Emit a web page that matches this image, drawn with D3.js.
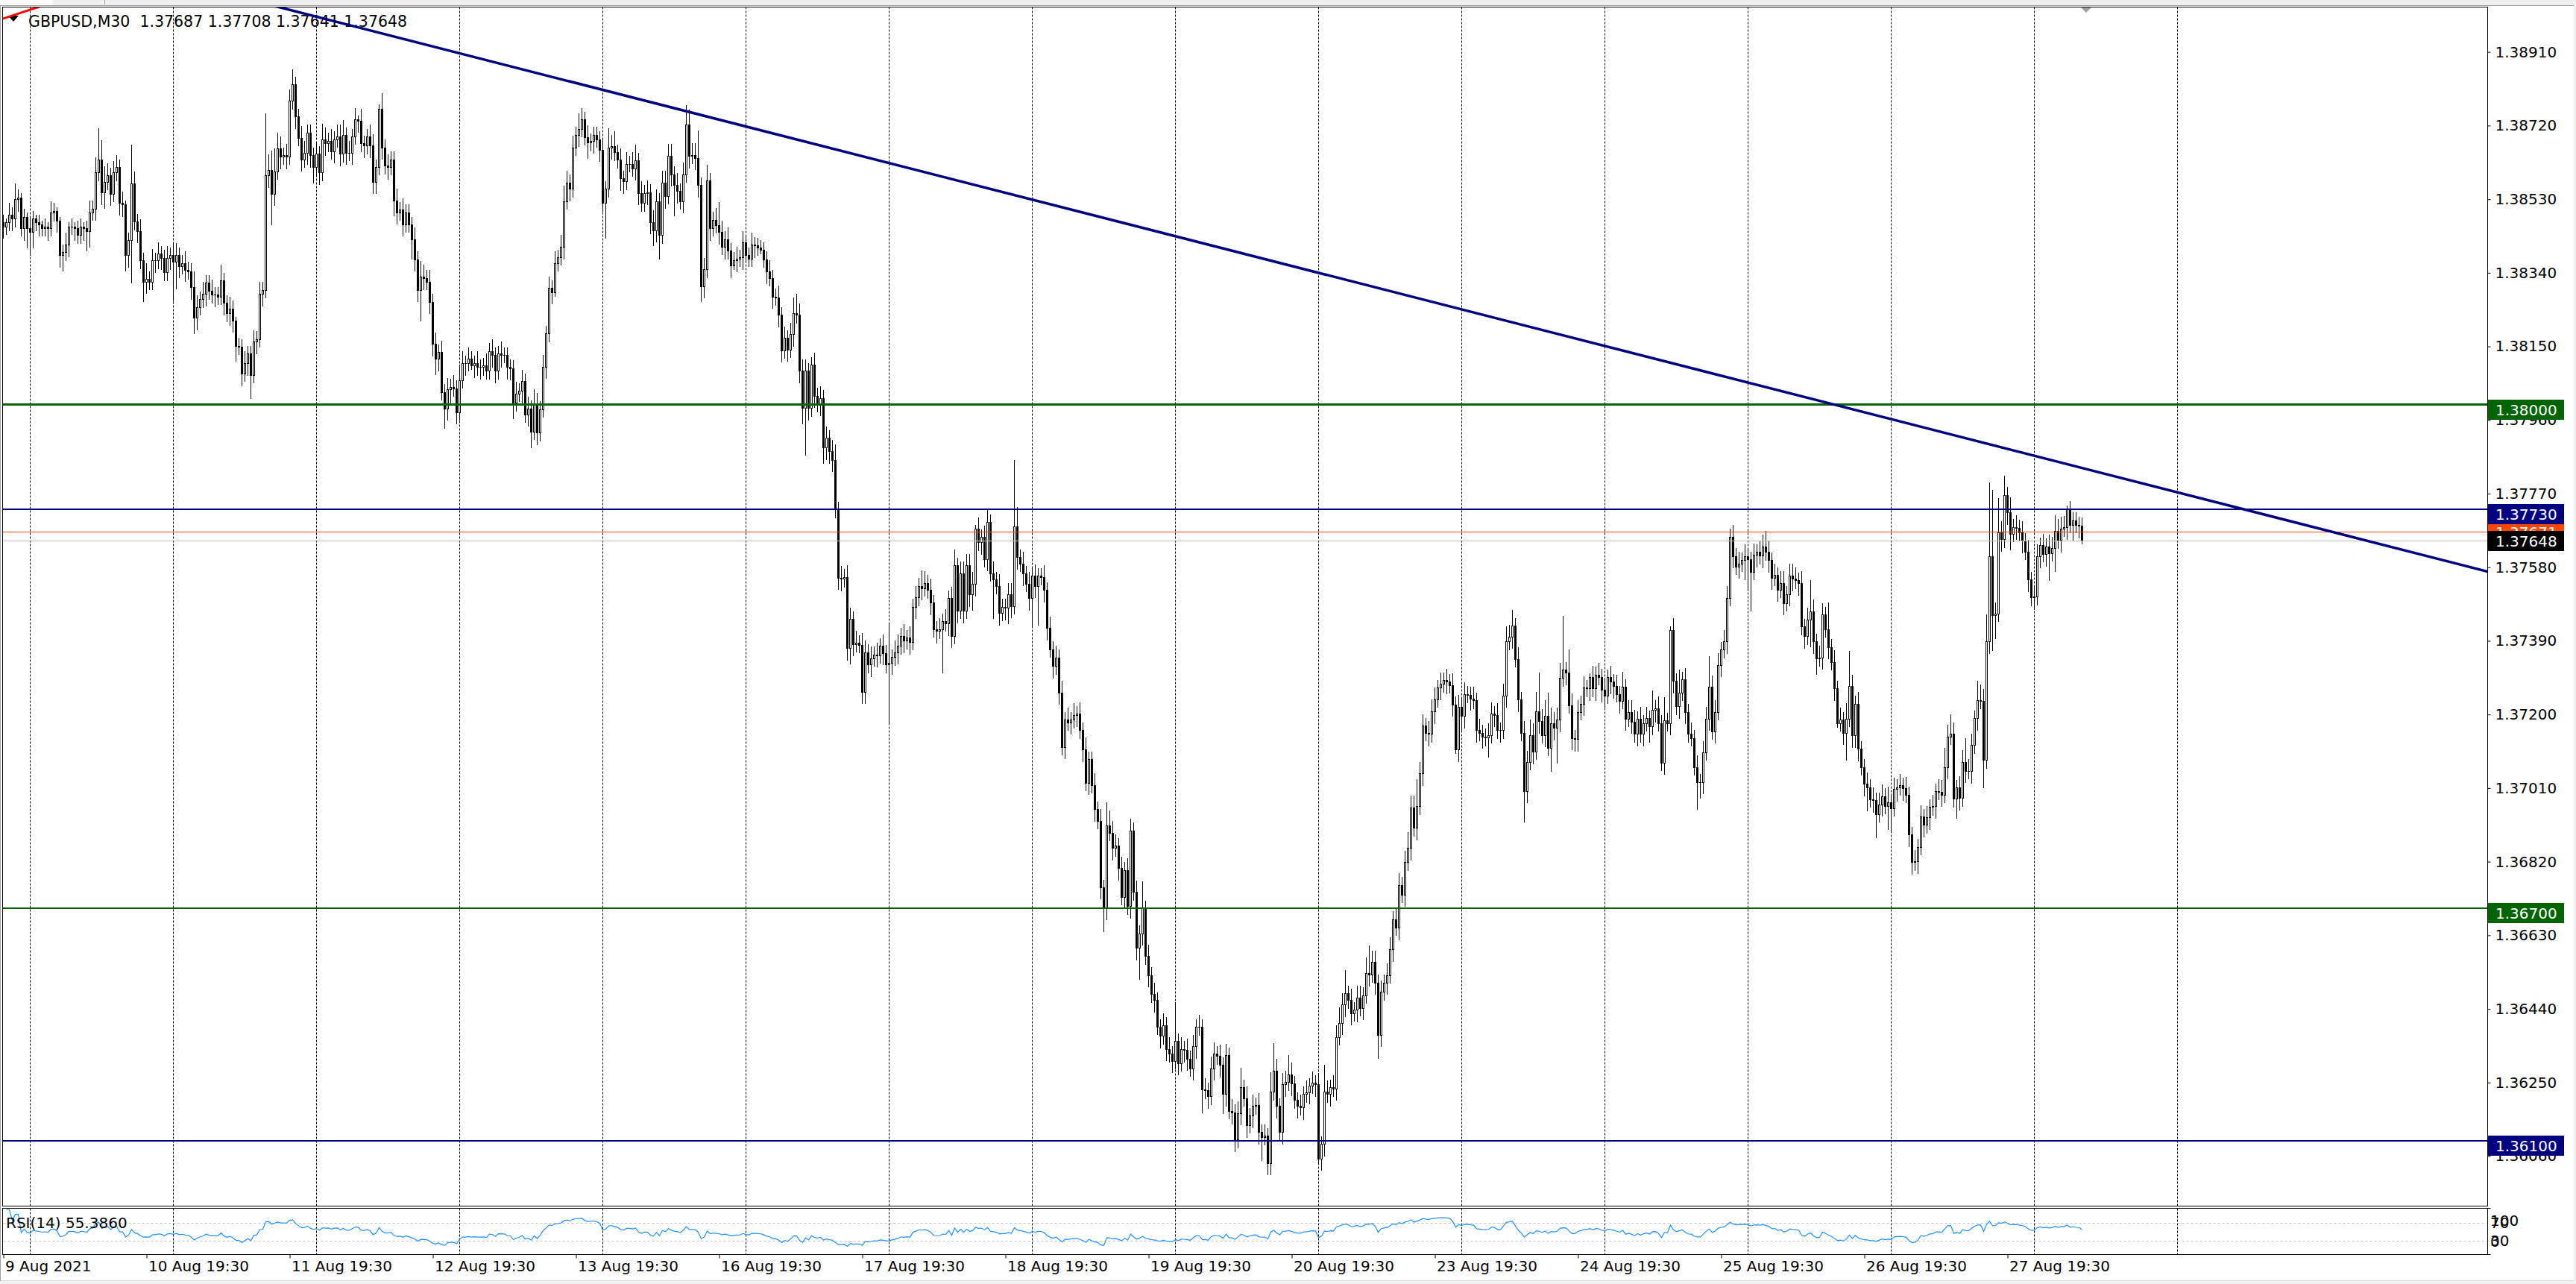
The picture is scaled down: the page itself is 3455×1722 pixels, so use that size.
<!DOCTYPE html>
<html><head><meta charset="utf-8">
<script src="https://cdnjs.cloudflare.com/ajax/libs/d3/7.8.5/d3.min.js"></script>
<style>
html,body{margin:0;padding:0;background:#fff;overflow:hidden;}
svg{display:block;}
text{font-family:"DejaVu Sans",Verdana,sans-serif;}
</style></head><body>
<svg id="chart" width="3455" height="1722"></svg>
<script>
// ---------------- DATA ----------------
const titleText = "GBPUSD,M30  1.37687 1.37708 1.37641 1.37648";
const rsiTitle = "RSI(14) 55.3860";
const basePrice = 1.36;          // prices below are pips above this
const firstOpen = 247;
const closes = [
246,247,249,248,253,253.5,245.5,248.5,245.5,244.5,
248,247,246.5,245.5,246,245.5,249.5,250,247.5,238.5,
239.3,241.3,246,246,245.5,243.7,246,245.5,244.8,249.6,
250.6,259.9,263.3,254.7,257.5,259.2,254.4,259.9,261.3,252,
251.6,238.6,242.4,257.1,247.2,244.8,237.2,231.7,232.4,231.7,
237.2,237.2,238.9,237.9,234.1,237.9,238.6,236.9,238.6,235.8,
236.5,234.8,234.4,230.3,222.4,225.2,227.2,228.6,231.4,229.3,
228.3,228.3,227.9,232,226.2,223.5,224.8,221.7,215.2,214.9,
208,210.7,213.2,207.6,216.2,216.9,228.6,229.6,259.2,260.6,
254.4,260.2,266.1,264,264.3,264,278.4,282.6,274.3,268.8,
263.3,265,270.2,264.3,261.3,264.7,259.9,268.5,267.4,268.1,
265.4,268.5,269.2,264.7,269.5,265,265,269.2,273.6,273.3,
267.4,266.8,269.2,266.8,257.5,261.3,276.4,266.4,261.6,261.3,
263.3,252.7,249.6,250.3,246.5,249.6,246.5,242.7,237.5,229.6,
233.1,232.7,231.7,226.5,215.6,211.8,213.5,203.2,199,203.9,
204.6,204.2,198,206.3,210.7,210.7,211.8,210.1,210.7,209.7,
209.7,210.1,208.7,213.8,212.8,208.7,213.2,212.8,212.8,209.7,
209.4,200.4,202.8,203.5,206,197.5,199,193,200,192.7,
198.8,209.8,218.3,230.1,229,236.5,238,240.7,252.5,257.3,
255.7,266.4,269.6,271.2,273.6,269,267.6,268,269.6,268.5,
265.8,252,255.7,266.4,266.6,265.1,263.2,258.4,257.6,262.1,
262.1,261,263,254.6,252,254.6,254.8,247.1,245,252.5,
243.7,257.3,253.8,264.2,259.4,256.7,255.1,252.5,259.4,272.2,
264.2,264.4,263.7,256.7,230.6,234.9,257.8,245.5,247.7,246.3,
244.5,240.7,242.7,239.7,235.9,237.3,237.7,238,241.8,238.6,
237.7,241.3,241,240.5,239.9,237.5,234.3,232.7,227.9,227.7,
223.1,214,217.2,214.2,218.1,223.6,223.1,208.7,199.1,208.7,
199.1,210.3,202.3,200.2,201.7,188.9,191.4,187.9,185.7,172.9,
155.3,155,155.5,137.1,144.6,138.2,138.5,138,125.9,136.1,
132.9,134.5,135.5,135.3,137.7,135.9,132.9,133.4,134.8,136.1,
137.7,140.3,139,139.8,138.7,147.8,150.2,153.2,152.6,154,
152.1,148.9,142,141.6,141.9,144.1,143.5,150,140.3,158.5,
146.8,156.4,146.8,158.5,151,153.7,167.9,164.4,165.8,160.1,
169.7,156.4,154.8,153.2,146.2,147.8,147.5,151,148,168.6,
160.6,159,156.4,153.7,150,155.8,153.2,155.8,155.5,152.1,
142.3,136.8,132.5,134.7,125.7,111.6,118.7,118,118.6,119.9,
120.2,115.9,111,102.4,108.5,101.8,95.6,92.6,75.4,70.1,
91.3,89.5,85.5,86.1,80.3,72.9,79.9,70.5,90.1,74.2,
59.7,63.5,69.9,57.6,52.7,47.8,46.3,39.4,37,39.8,
33.7,32.4,30.6,35.7,30,33.7,33.4,31.2,28.7,34.3,
39.4,39.3,23.2,23,21.4,28.7,32.4,31.8,29.5,22,
32,17.7,17.3,10.3,17.1,23.8,21,14,16.5,18.9,
19.2,12.2,11,11.2,4.2,22.6,28.1,18.9,12.2,24.5,
25.1,27.1,24.7,20.5,18.9,18.6,22,22.5,24.2,24.9,
24.5,5.4,9.1,22.6,22,23.8,23.5,36.7,40.4,45.1,
48,46.3,42.9,43.8,46.9,44.3,47.5,53.3,52.9,56.1,
50.8,37.3,48.4,50.8,52.7,59.4,67.2,65,76,73.5,
81.9,85.6,96,90.7,96.3,104.8,117.1,115.3,115,120.8,
123.9,126.9,127.9,128.8,128.5,127.6,122.6,111,122,119.6,
125.3,125.1,124.1,123.6,115.9,115.3,114.3,114,114.7,120.2,
119.9,115.9,115.9,124.9,138.8,140.1,142.9,134.3,123.9,115.3,
100.3,107.7,114.7,110.4,120.8,118.3,114.7,119.6,111.4,117.7,
116.5,118.7,129.4,131.5,130.8,122.4,113.9,113.7,120.7,122.8,
126.9,126.7,129.6,126.7,130.3,129.7,126.4,124.9,129.6,128.5,
127.3,125.3,123.5,127.1,118.9,120.7,118.2,115,118.9,115,
117.8,119,116.9,121.2,121.6,117.8,107.6,118.5,117.8,141.8,
128.7,122.1,125.6,129,120.7,115,113.9,106.4,102.5,102.6,
110.2,118.9,127.1,115.7,120.7,132.8,136.7,138.8,150.1,165.9,
160.9,158.2,158.9,159.8,160.9,160,156.8,161.2,161.9,161,
163.4,161.9,159.8,155.3,156,152.2,153.9,148.8,151.1,155.9,
155,154.6,153.9,142.7,140.2,144.5,146.6,138.9,134.5,134.7,
145.8,142,137.4,133.5,126.7,117.8,118.7,115.3,118.9,127.3,
114.6,122.8,111.1,106.4,102.1,101.2,98.1,97.9,94.3,96.8,
98.9,96.4,97.4,95.8,100.7,101.2,101.7,100.9,99.3,89,
81.9,82.1,85.8,93.6,91.5,93.4,96.1,96.3,100.2,100.1,
99.3,106.4,114.3,115,98.2,101.1,98.4,107.8,105.5,105.4,
112.1,119,123.7,123.5,108.2,138.8,160.9,145.6,146,166.9,
165.2,176.7,172.1,166.6,168.4,168.2,166.9,164.8,162,154.8,
150.2,150.4,160.9,163.7,161.4,163.4,161.6,162.9,167.4,165,
168,168.3,173,168.9,170.1,169,168.7,164.8
];
const upWicks = [
2,1,3,2,4,2,1,2,1,3,
2,1,2,1,2,1,3,2,1,1,
2,3,1,2,1,2,2,1,2,3,
2,4,8,5,4,3,2,3,3,2,
3,1,2,10,3,2,3,2,4,2,
3,2,3,2,2,3,2,3,3,2,
2,3,2,2,4,3,2,3,2,2,
3,2,2,4,2,2,3,2,1,2,
2,3,2,2,3,2,3,2,16,4,
5,6,4,3,2,3,3,4,2,2,
3,3,2,2,2,3,2,4,3,2,
3,2,3,3,4,2,3,2,3,1,
3,2,2,3,3,2,1,4,2,3,
2,2,3,2,3,2,2,2,3,2,
4,3,2,3,2,3,2,3,2,3,
2,3,2,4,3,2,3,2,2,3,
2,2,3,2,3,2,2,3,2,2,
2,2,3,2,3,2,3,2,4,3,
2,3,2,3,2,3,2,3,4,3,
2,3,2,4,3,2,3,2,2,2,
2,3,2,5,3,4,2,3,2,3,
2,3,4,2,3,2,3,2,3,3,
2,3,3,3,3,2,3,2,3,5,
4,3,3,7,2,3,4,2,2,3,
6,3,2,3,2,2,3,2,3,2,
2,3,2,2,2,2,2,3,2,2,
3,2,3,2,3,4,5,3,3,3,
2,2,3,2,3,2,3,2,3,4,
2,3,2,3,3,2,3,2,3,3,
2,3,2,3,2,3,2,10,2,3,
3,2,3,2,3,2,3,2,4,3,
2,3,2,2,3,2,3,2,3,4,
2,3,3,3,3,3,1,3,2,3,
3,2,3,2,3,2,2,3,3,17,
5,2,3,2,3,2,3,2,2,3,
2,3,2,3,2,3,2,3,2,3,
2,3,2,3,2,2,3,2,3,2,
6,4,3,3,2,3,2,3,3,2,
3,2,7,2,3,2,3,2,2,3,
2,3,2,10,2,3,2,3,2,3,
2,3,2,3,2,3,3,2,3,2,
3,2,3,2,3,5,2,3,2,3,
2,3,2,3,2,5,7,3,2,3,
3,5,3,2,2,3,2,3,2,3,
2,3,2,7,3,2,3,3,4,3,
6,2,3,2,3,3,2,4,7,3,
3,2,3,2,3,3,2,3,3,2,
3,4,3,3,7,3,3,2,3,3,
3,2,3,2,3,2,3,2,3,2,
3,2,2,3,2,3,2,2,3,3,
2,3,2,3,4,3,4,2,3,2,
3,3,4,3,5,10,3,4,6,4,
3,3,4,14,2,6,3,2,3,2,
3,2,1,3,2,3,2,3,2,3,
2,3,2,4,2,3,3,3,2,3,
2,3,2,5,2,3,2,6,2,1,
3,2,6,2,3,2,3,2,3,2,
3,3,8,3,3,3,2,3,3,2,
3,2,3,2,3,2,2,3,2,3,
3,4,3,2,3,2,3,3,2,3,
3,3,2,3,2,3,8,3,2,3,
3,2,7,2,3,2,3,2,4,9,
3,2,3,2,2,3,2,3,2,3,
3,2,4,2,3,2,3,2,3,2,
2,3,2,3,2,3,2,3,2,3,
3,5,3,5,3,2,3,3,6,3,
3,2,5,4,3,7,19,17,3,9,
3,5,2,4,2,3,2,3,2,3,
2,3,3,2,3,2,3,3,4,3,
3,3,1,2,2,2,2,2.1
];
const downWicks = [
3,2,2,3,2,3,2,3,5,6,
4,2,3,2,2,3,2,2,3,3,
4,2,3,2,3,2,2,3,5,4,
2,3,2,3,4,2,3,2,2,3,
3,4,3,11,2,3,2,5,3,2,
2,3,2,3,2,2,3,10,7,3,
2,3,2,3,4,3,2,2,3,2,
2,3,2,2,3,2,3,3,4,2,
3,2,3,6,2,3,2,3,2,3,
8,3,2,3,2,3,2,2,3,2,
3,2,3,3,4,2,3,2,3,2,
2,3,2,3,2,3,2,3,2,3,
2,3,2,3,3,3,2,3,2,3,
2,4,3,2,3,2,2,5,3,3,
8,3,2,3,3,4,3,2,5,3,
4,2,3,2,2,3,2,1,3,2,
3,2,2,2,3,3,2,3,2,3,
3,4,2,2,3,2,3,4,2,3,
2,2,3,2,3,1,2,2,3,2,
3,2,2,3,2,2,4,2,3,2,
3,2,9,2,3,2,2,3,3,2,
2,2,3,3,2,2,3,3,4,3,
6,2,3,2,3,8,3,2,3,2,
3,2,3,3,4,3,2,3,2,2,
3,2,3,2,3,1,3,2,3,2,
2,2,3,2,1,2,3,2,3,2,
3,3,2,3,2,3,2,3,4,12,
3,2,3,2,3,4,3,3,3,2,
3,3,2,3,4,3,2,2,3,3,
2,3,2,3,2,3,2,15,3,2,
3,2,3,2,3,2,3,2,3,2,
2,3,2,3,2,11,2,3,3,2,
3,2,3,2,3,4,3,2,3,2,
3,2,10,2,3,2,3,4,3,2,
3,2,3,2,3,7,3,10,2,3,
3,2,3,2,3,2,3,2,3,2,
3,2,3,2,3,2,3,2,3,6,
3,2,3,2,3,2,3,2,3,2,
3,8,3,2,3,2,3,2,3,2,
3,2,3,2,3,2,3,3,2,3,
3,2,6,2,3,2,3,2,3,5,
3,2,3,3,2,3,2,3,2,3,
2,3,6,2,3,3,2,3,2,3,
3,2,3,2,3,2,3,2,3,2,
3,1,3,3,2,3,2,3,2,3,
3,2,3,2,3,2,3,2,3,2,
3,6,3,2,3,2,3,2,3,2,
3,2,3,2,3,2,3,2,3,2,
3,2,3,2,3,2,3,1,3,4,
3,2,3,2,3,2,3,2,5,2,
3,2,3,2,3,2,3,2,3,2,
8,3,2,3,2,3,2,3,2,6,
3,9,3,2,3,2,3,3,3,2,
3,2,3,2,3,2,3,3,2,3,
3,2,3,2,3,2,3,2,3,2,
3,2,4,2,3,2,2,3,2,3,
3,2,3,2,3,2,2,2,7,4,
3,2,3,2,3,2,3,2,3,2,
3,2,3,2,5,8,10,2,3,2,
3,2,3,3,2,3,2,3,2,3,
3,2,3,2,3,2,7,3,4,2,
3,2,3,2,3,1,2,3,7,2,
3,3,3,2,3,6,2,3,6,2,
3,2,6,6,2,3,2,3,2,3,
3,2,3,2,3,2,3,2,3,2,
3,2,3,2,2,5,3,2,3,2,
3,2,3,2,7,2,3,9,6,2,
3,2,3,4,2,3,2,3,2,3,
2,3,2,3,2,3,7,2,6,2,
3,2,3,2,4,2,3,0.7
];
const timeLabels = ["9 Aug 2021","10 Aug 19:30","11 Aug 19:30","12 Aug 19:30","13 Aug 19:30","16 Aug 19:30","17 Aug 19:30","18 Aug 19:30","19 Aug 19:30","20 Aug 19:30","23 Aug 19:30","24 Aug 19:30","25 Aug 19:30","26 Aug 19:30","27 Aug 19:30"];
const timeLabelBars = [0,48,96,144,192,240,288,336,384,432,480,528,576,624,672];
const gridBars = [9,57,105,153,201,249,297,345,393,441,489,537,585,633,681,729];
const priceTicks = [1.38910,1.38720,1.38530,1.38340,1.38150,1.37960,1.37770,1.37580,1.37390,1.37200,1.37010,1.36820,1.36630,1.36440,1.36250,1.36060];
const levelPrices = [1.38000, 1.36700, 1.36100, 1.37730];
const askPrice = 1.37671;
const bidPrice = 1.37648;
const trendBars = [297.25, 833.5];
const trendPrices = [1.38623, 1.37568];
const redBars = [0, 11.5];
const redPrices = [1.38996, 1.39025];
const rsiLevels = [70, 30];
const rsiAxisValues = [100, 70, 30, 0];

// ---------------- STYLE / LAYOUT ----------------
const W = 3455, H = 1722;
const plot = {left: 3.5, right: 3336.5, top: 9.5, bottom: 1617.5};
const rsiBox = {top: 1620.5, bottom: 1682.5};
const levelStyles = [
  {color: "#006400", width: 3},
  {color: "#006400", width: 2},
  {color: "#000080", width: 2},
  {color: "#000080", width: 2}
];
const FONT = 20;

const svg = d3.select("#chart");
const n = closes.length;
const toPrice = p => basePrice + p / 10000;

const x = d3.scaleLinear().domain([0, 697]).range([4, 2792]);
const y = d3.scaleLinear().domain([1.36060, 1.38910]).range([1550.5, 69.7]);
const yr = d3.scaleLinear().domain([0, 100]).range([1682, 1622]);
const crisp = (v, w) => (w % 2 === 1 ? Math.floor(v) + 0.5 : Math.round(v));

// background & window chrome
svg.append("rect").attr("width", W).attr("height", H).attr("fill", "#fff");
svg.append("rect").attr("x", 0).attr("y", 0).attr("width", W).attr("height", 7).attr("fill", "#f0f0f0");
svg.append("line").attr("x1", 0).attr("x2", W).attr("y1", 7.5).attr("y2", 7.5).attr("stroke", "#a0a0a0");
svg.append("rect").attr("x", 0).attr("y", 0).attr("width", 70).attr("height", 7).attr("fill", "#fbfbfb");
svg.append("line").attr("x1", 140.5).attr("x2", 140.5).attr("y1", 0).attr("y2", 6).attr("stroke", "#a0a0a0");
svg.append("rect").attr("x", 0).attr("y", H - 4).attr("width", W).attr("height", 4).attr("fill", "#f0f0f0");
svg.append("line").attr("x1", 0).attr("x2", W).attr("y1", H - 4.5).attr("y2", H - 4.5).attr("stroke", "#dcdcdc");
svg.append("rect").attr("x", W - 3).attr("y", 0).attr("width", 3).attr("height", H).attr("fill", "#f0f0f0");
svg.append("line").attr("x1", 0.5).attr("x2", 0.5).attr("y1", 8).attr("y2", H - 4).attr("stroke", "#a0a0a0");

// clip
const defs = svg.append("defs");
defs.append("clipPath").attr("id", "plotClip").append("rect")
  .attr("x", plot.left + 0.5).attr("y", plot.top + 0.5)
  .attr("width", plot.right - plot.left - 1).attr("height", plot.bottom - plot.top - 1);

// grid (vertical dashed)
const grid = svg.append("g");
gridBars.forEach(b => {
  const gx = Math.round(x(b)) + 0.5;
  [[plot.top, plot.bottom], [rsiBox.top, rsiBox.bottom]].forEach(([a, bb]) => {
    grid.append("line").attr("x1", gx).attr("x2", gx).attr("y1", a).attr("y2", bb)
      .attr("stroke", "#000").attr("stroke-width", 1).attr("stroke-dasharray", "3,2");
  });
});

// candles
const cg = svg.append("g").attr("clip-path", "url(#plotClip)");
for (let i = 0; i < n; i++) {
  const o = i === 0 ? firstOpen : closes[i - 1];
  const c = closes[i];
  const hi = Math.max(o, c) + (upWicks[i] || 0);
  const lo = Math.min(o, c) - (downWicks[i] || 0);
  const cx = Math.round(x(i));
  const yh = y(toPrice(hi)), yl = y(toPrice(lo));
  cg.append("line").attr("x1", cx + 0.5).attr("x2", cx + 0.5)
    .attr("y1", Math.round(yh)).attr("y2", Math.round(yl) + 1)
    .attr("stroke", "#000").attr("stroke-width", 1);
  const yo = y(toPrice(o)), yc = y(toPrice(c));
  const top = Math.round(Math.min(yo, yc)), bot = Math.round(Math.max(yo, yc));
  const h = bot - top;
  if (h < 1) {
    cg.append("line").attr("x1", cx - 1).attr("x2", cx + 2).attr("y1", top + 0.5).attr("y2", top + 0.5)
      .attr("stroke", "#000");
  } else if (c > o) {
    cg.append("rect").attr("x", cx - 0.5).attr("y", top + 0.5).attr("width", 2).attr("height", h)
      .attr("fill", "#fff").attr("stroke", "#000").attr("stroke-width", 1);
  } else {
    cg.append("rect").attr("x", cx - 1).attr("y", top).attr("width", 3).attr("height", h + 1)
      .attr("fill", "#000");
  }
}

// header
svg.append("path").attr("d", "M11,21 L25,21 L18,29 Z").attr("fill", "#000");
svg.append("text").attr("x", 38).attr("y", 36).attr("font-size", 20.5).attr("fill", "#000")
  .attr("xml:space", "preserve").style("white-space", "pre").text(titleText);

// objects (clipped)
const og = svg.append("g").attr("clip-path", "url(#plotClip)");
og.append("line").attr("x1", plot.left).attr("x2", plot.right)
  .attr("y1", crisp(y(bidPrice), 1)).attr("y2", crisp(y(bidPrice), 1))
  .attr("stroke", "#c0c0c0").attr("stroke-width", 1);
og.append("line").attr("x1", plot.left).attr("x2", plot.right)
  .attr("y1", crisp(y(askPrice), 1)).attr("y2", crisp(y(askPrice), 1))
  .attr("stroke", "#ff4500").attr("stroke-width", 1);
levelPrices.forEach((p, i) => {
  const w = levelStyles[i].width;
  og.append("line").attr("x1", plot.left).attr("x2", plot.right)
    .attr("y1", crisp(y(p), w)).attr("y2", crisp(y(p), w))
    .attr("stroke", levelStyles[i].color).attr("stroke-width", w);
});
function rayLine(bars, prices, color, width) {
  const slope = (prices[1] - prices[0]) / (bars[1] - bars[0]);
  const b0 = bars[0] - 400, b1 = bars[1] + 400;
  const p0 = prices[0] + slope * (b0 - bars[0]), p1 = prices[0] + slope * (b1 - bars[0]);
  og.append("line").attr("x1", x(b0)).attr("y1", y(p0)).attr("x2", x(b1)).attr("y2", y(p1))
    .attr("stroke", color).attr("stroke-width", width);
}
rayLine(trendBars, trendPrices, "#000080", 3.5);
rayLine(redBars, redPrices, "#ff0000", 3);

// frames
svg.append("rect").attr("x", plot.left).attr("y", plot.top).attr("width", plot.right - plot.left)
  .attr("height", plot.bottom - plot.top).attr("fill", "none").attr("stroke", "#000");
svg.append("rect").attr("x", plot.left).attr("y", rsiBox.top).attr("width", plot.right - plot.left)
  .attr("height", rsiBox.bottom - rsiBox.top).attr("fill", "none").attr("stroke", "#000");

// price axis
const pa = svg.append("g").attr("transform", `translate(${plot.right},0)`)
  .call(d3.axisRight(y).tickValues(priceTicks).tickFormat(d3.format(".5f")).tickSize(4).tickPadding(6));
pa.select(".domain").remove();
pa.selectAll("text").attr("font-size", FONT).attr("font-family", "DejaVu Sans").attr("fill", "#000");
pa.selectAll("line").attr("stroke", "#000");

// price label boxes
function priceBox(p, bg, centered) {
  const ly = y(p);
  const top = Math.round(centered ? ly - 13.5 : ly - 6.5);
  svg.append("rect").attr("x", 3337).attr("y", top).attr("width", 102).attr("height", 27).attr("fill", bg);
  svg.append("text").attr("x", 3347).attr("y", top + 20.5).attr("font-size", FONT)
    .attr("fill", "#fff").text(d3.format(".5f")(p));
}
priceBox(levelPrices[0], levelStyles[0].color, false);
priceBox(levelPrices[1], levelStyles[1].color, false);
priceBox(levelPrices[2], levelStyles[2].color, false);
priceBox(askPrice, "#ff4500", true);
priceBox(levelPrices[3], levelStyles[3].color, false);
priceBox(bidPrice, "#000", true);

// RSI
const rsi = [];
let ag = 0, al = 0;
for (let i = 1; i < n; i++) {
  const ch = closes[i] - closes[i - 1];
  const g = Math.max(ch, 0), l = Math.max(-ch, 0);
  if (i <= 14) {
    ag += g; al += l;
    const a = ag / i, b = al / i;
    rsi.push([i, a + b === 0 ? 50 : 100 * a / (a + b)]);
    if (i === 14) { ag /= 14; al /= 14; }
  } else {
    ag = (ag * 13 + g) / 14; al = (al * 13 + l) / 14;
    rsi.push([i, al === 0 ? 100 : 100 - 100 / (1 + ag / al)]);
  }
}
rsiLevels.forEach(v => {
  svg.append("line").attr("x1", plot.left + 1).attr("x2", plot.right - 1)
    .attr("y1", Math.round(yr(v)) + 0.5).attr("y2", Math.round(yr(v)) + 0.5)
    .attr("stroke", "#c0c0c0").attr("stroke-dasharray", "3,3");
});
svg.append("path").datum(rsi)
  .attr("d", d3.line().x(d => x(d[0]) + 0.5).y(d => yr(d[1])))
  .attr("fill", "none").attr("stroke", "#1e90ff").attr("stroke-width", 1.2);
svg.append("text").attr("x", 8).attr("y", 1647).attr("font-size", FONT).attr("fill", "#000").text(rsiTitle);
rsiAxisValues.forEach(v => {
  const ly = Math.min(Math.max(yr(v), 1637), 1665);
  svg.append("text").attr("x", 3340).attr("y", ly + 7).attr("font-size", FONT).attr("fill", "#000").text(v);
});
[rsiBox.top, rsiBox.bottom].forEach(ty => {
  svg.append("line").attr("x1", plot.right).attr("x2", plot.right + 4).attr("y1", ty).attr("y2", ty).attr("stroke", "#000");
});

// time axis
const ta = svg.append("g").attr("transform", `translate(0.5,${rsiBox.bottom})`)
  .call(d3.axisBottom(x).tickValues(timeLabelBars).tickFormat((d, i) => timeLabels[i]).tickSize(5).tickPadding(3));
ta.select(".domain").remove();
ta.selectAll("line").attr("stroke", "#000");
ta.selectAll("text").attr("text-anchor", "start").attr("x", 2).attr("font-size", FONT)
  .attr("font-family", "DejaVu Sans").attr("fill", "#000");

// chart shift marker
svg.append("path").attr("d", "M2791,10 L2805,10 L2798,17 Z").attr("fill", "#a0a0a0");
</script>
</body></html>
